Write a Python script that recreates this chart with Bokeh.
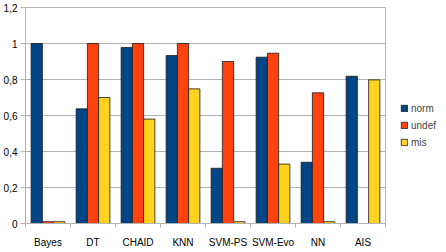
from bokeh.plotting import figure
from bokeh.models import (Range1d, FixedTicker, CustomJSTickFormatter, Legend,
                          LegendItem, ColumnDataSource, Span)
from bokeh.embed import file_html
from bokeh.resources import INLINE

# classifier results per method
methods = ["Bayes", "DT", "CHAID", "KNN", "SVM-PS", "SVM-Evo", "NN", "AIS"]
norm = [1.0, 0.637, 0.978, 0.933, 0.307, 0.924, 0.34, 0.818]
undef = [0.01, 1.0, 1.0, 1.0, 0.90, 0.946, 0.726, 0.0]
mis = [0.01, 0.70, 0.58, 0.748, 0.01, 0.33, 0.01, 0.798]
y_ticks = [0, 0.2, 0.4, 0.6, 0.8, 1.0, 1.2]

series = [("norm", norm, "#004586", -0.25),
          ("undef", undef, "#ff420e", 0.0),
          ("mis", mis, "#ffd320", 0.25)]

FONT = "Liberation Sans"
GRID = "#b3b3b3"
N = len(methods)
Y_MAX = y_ticks[-1]
PX_PER_UNIT_Y = 216 / Y_MAX

# the frame runs to the right edge so the legend has room beside the bars;
# grid lines, axis and border are limited to the category span 0..N
p = figure(width=446, height=252, output_backend="svg", toolbar_location=None,
           x_range=Range1d(0, 421 / 45),
           y_range=Range1d(0, Y_MAX + 1 / PX_PER_UNIT_Y))
p.min_border_left = 25
p.min_border_top = 6
p.min_border_bottom = 29
p.min_border_right = 0
p.outline_line_color = None
p.background_fill_color = "white"
p.border_fill_color = "white"
p.xgrid.grid_line_color = None
p.ygrid.grid_line_color = None

# horizontal grid lines across the category span
p.segment(x0=[0] * len(y_ticks), x1=[N] * len(y_ticks), y0=y_ticks, y1=y_ticks,
          line_color=GRID, line_width=1)

items = []
for name, vals, color, off in series:
    xs = [i + 0.5 + off for i, v in enumerate(vals) if v > 0]
    tops = [v for v in vals if v > 0]
    src = ColumnDataSource(dict(x=xs, top=tops))
    r = p.vbar(x="x", top="top", width=0.25, source=src, fill_color=color,
               line_color="#1a1a1a", line_width=0.8)
    items.append(LegendItem(label=name, renderers=[r]))

# x axis: labels at the group centres, small ticks at the group boundaries
xa = p.xaxis[0]
xa.bounds = (0, N)
xa.ticker = FixedTicker(ticks=[i + 0.5 for i in range(N)],
                        minor_ticks=list(range(N + 1)))
xa.major_label_overrides = {i + 0.5: m for i, m in enumerate(methods)}
xa.major_tick_out = 0
xa.major_tick_in = 0
xa.minor_tick_out = 4
xa.minor_tick_in = 0
xa.minor_tick_line_color = GRID
xa.axis_line_color = GRID
xa.major_label_standoff = 9
xa.major_label_text_font = FONT
xa.major_label_text_font_size = "10px"
xa.major_label_text_color = "#000000"

ya = p.yaxis[0]
ya.bounds = (0, Y_MAX)
ya.ticker = FixedTicker(ticks=y_ticks, minor_ticks=[])
ya.formatter = CustomJSTickFormatter(
    code="var s = tick.toFixed(1).replace('.', ','); return s.endsWith(',0') ? s.slice(0, -2) : s;")
ya.major_tick_out = 5
ya.major_tick_in = 0
ya.major_tick_line_color = GRID
ya.axis_line_color = GRID
ya.major_label_standoff = 3
ya.major_label_text_font = FONT
ya.major_label_text_font_size = "10px"
ya.major_label_text_color = "#000000"

# right-hand border of the plot area
p.segment(x0=[N], x1=[N], y0=[0], y1=[Y_MAX], line_color=GRID, line_width=1)

legend = Legend(items=items, location=(375, 75), glyph_width=8, glyph_height=8,
                label_text_font=FONT, label_text_font_size="10px",
                label_standoff=3, spacing=5, padding=0, margin=0,
                border_line_color=None, background_fill_alpha=0,
                label_height=12)
p.add_layout(legend, "center")

open("out.html", "w").write(file_html(p, INLINE))
